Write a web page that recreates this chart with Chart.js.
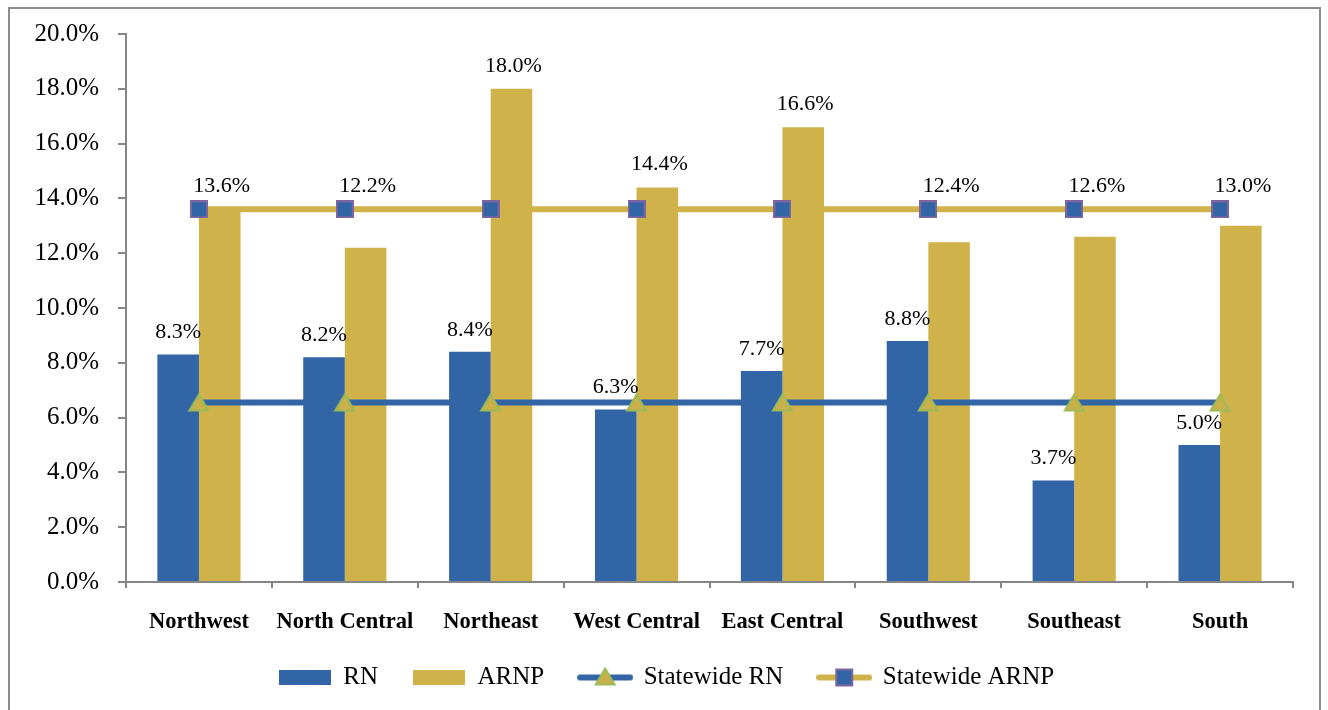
<!DOCTYPE html>
<html>
<head>
<meta charset="utf-8">
<script src="https://cdn.jsdelivr.net/npm/chart.js@4.4.1/dist/chart.umd.min.js"></script>
<style>
  html, body { margin: 0; padding: 0; background: #fff; }
  #wrap { position: relative; width: 1328px; height: 710px; }
  #frame { position: absolute; left: 8px; top: 7px; width: 1313px; height: 720px; border: 2px solid #8c8c8c; box-sizing: border-box; pointer-events: none; }
  canvas { display: block; }
</style>
</head>
<body>
<div id="wrap">
  <canvas id="c" width="1328" height="710"></canvas>
  <div id="frame"></div>
</div>
<script>
const categories = ["Northwest", "North Central", "Northeast", "West Central", "East Central", "Southwest", "Southeast", "South"];
const rnValues = [8.3, 8.2, 8.4, 6.3, 7.7, 8.8, 3.7, 5.0];
const arnpValues = [13.6, 12.2, 18.0, 14.4, 16.6, 12.4, 12.6, 13.0];
const statewideRN = [6.55, 6.55, 6.55, 6.55, 6.55, 6.55, 6.55, 6.55];
const statewideARNP = [13.6, 13.6, 13.6, 13.6, 13.6, 13.6, 13.6, 13.6];
const yTicks = [0, 2, 4, 6, 8, 10, 12, 14, 16, 18, 20];

const BLUE = '#3165a5';
const GOLD = '#d0b24a';
const GREEN = '#9bbb59';
const PURPLE = '#8064a2';
const AXIS = '#868686';
const FONT = '"Liberation Serif", "Times New Roman", serif';

function drawTriangle(ctx, cx, cy, r) {
  ctx.beginPath();
  ctx.moveTo(cx, cy - r);
  ctx.lineTo(cx + r * 0.95, cy + r * 0.6);
  ctx.lineTo(cx - r * 0.95, cy + r * 0.6);
  ctx.closePath();
}

function makeTriangle(size) {
  const c = document.createElement('canvas');
  c.width = size; c.height = size;
  const ctx = c.getContext('2d');
  const r = size / 2 - 1.5;
  ctx.fillStyle = '#c9b04a';
  ctx.strokeStyle = GREEN;
  ctx.lineWidth = 2;
  drawTriangle(ctx, size / 2, size / 2 + 2, r);
  ctx.fill(); ctx.stroke();
  return c;
}
function makeSquare(size) {
  const c = document.createElement('canvas');
  c.width = size; c.height = size;
  const ctx = c.getContext('2d');
  ctx.fillStyle = BLUE;
  ctx.strokeStyle = PURPLE;
  ctx.lineWidth = 2;
  ctx.fillRect(1, 1, size - 2, size - 2);
  ctx.strokeRect(1, 1, size - 2, size - 2);
  return c;
}
function makeBox(color) {
  const c = document.createElement('canvas');
  c.width = 52; c.height = 15;
  const ctx = c.getContext('2d');
  ctx.fillStyle = color;
  ctx.fillRect(0, 0, 52, 15);
  return c;
}
function makeLineIcon(color, marker) {
  const c = document.createElement('canvas');
  c.width = 56; c.height = 22;
  const ctx = c.getContext('2d');
  ctx.strokeStyle = color;
  ctx.lineWidth = 6;
  ctx.lineCap = 'round';
  ctx.beginPath(); ctx.moveTo(3, 11); ctx.lineTo(53, 11); ctx.stroke();
  if (marker === 'tri') {
    ctx.fillStyle = '#c9b04a'; ctx.strokeStyle = GREEN; ctx.lineWidth = 2;
    drawTriangle(ctx, 28, 12, 10);
    ctx.fill(); ctx.stroke();
  } else {
    ctx.fillStyle = BLUE; ctx.strokeStyle = PURPLE; ctx.lineWidth = 2;
    ctx.fillRect(20, 3, 16, 16); ctx.strokeRect(20, 3, 16, 16);
  }
  return c;
}

const triImg = makeTriangle(23);
const sqImg = makeSquare(18);
const legendIcons = [makeBox(BLUE), makeBox(GOLD), makeLineIcon(BLUE, 'tri'), makeLineIcon(GOLD, 'sq')];

const labelPlugin = {
  id: 'valueLabels',
  afterLayout(chart) {
    const lg = chart.legend;
    if (lg) { lg.top -= 10; lg.bottom -= 10; lg.left += 20; lg.right += 20; }
  },
  afterDatasetsDraw(chart) {
    const ctx = chart.ctx;
    const y = chart.scales.y;
    ctx.save();
    ctx.font = '22px ' + FONT;
    ctx.fillStyle = '#000';
    ctx.textAlign = 'center';
    ctx.textBaseline = 'middle';
    const rnMeta = chart.getDatasetMeta(0);
    rnMeta.data.forEach((bar, i) => {
      ctx.fillText(rnValues[i].toFixed(1) + '%', bar.x, bar.y - 22);
    });
    const arMeta = chart.getDatasetMeta(1);
    const linePx = y.getPixelForValue(statewideARNP[0]);
    arMeta.data.forEach((bar, i) => {
      const top = Math.min(bar.y, linePx);
      ctx.fillText(arnpValues[i].toFixed(1) + '%', bar.x + 2, top - 23);
    });
    ctx.restore();
  }
};

new Chart(document.getElementById('c'), {
  data: {
    labels: categories,
    datasets: [
      { type: 'bar', label: 'RN', data: rnValues, backgroundColor: BLUE, order: 2,
        categoryPercentage: 0.57, barPercentage: 1.0 },
      { type: 'bar', label: 'ARNP', data: arnpValues, backgroundColor: GOLD, order: 2,
        categoryPercentage: 0.57, barPercentage: 1.0 },
      { type: 'line', label: 'Statewide RN', data: statewideRN, borderColor: BLUE, borderWidth: 6,
        pointStyle: triImg, pointRadius: 10, order: 0 },
      { type: 'line', label: 'Statewide ARNP', data: statewideARNP, borderColor: GOLD, borderWidth: 6,
        pointStyle: sqImg, pointRadius: 9, order: 1 }
    ]
  },
  options: {
    responsive: false,
    animation: false,
    events: [],
    layout: { padding: { left: 0, right: 35, top: 33, bottom: 0 } },
    scales: {
      x: {
        offset: true,
        grid: { display: true, drawOnChartArea: false, drawTicks: true, tickLength: 6, offset: true, color: AXIS, lineWidth: 2 },
        border: { display: true, color: AXIS, width: 2 },
        ticks: { color: '#000', font: { family: FONT, size: 22.5, weight: 'bold' }, padding: 21, maxRotation: 0, autoSkip: false },
        afterFit(s) { s.height = 58; }
      },
      y: {
        min: 0, max: 20,
        afterBuildTicks(s) { s.ticks = yTicks.map(v => ({ value: v })); },
        grid: { display: true, drawOnChartArea: false, drawTicks: true, tickLength: 8, color: AXIS, lineWidth: 2 },
        border: { display: true, color: AXIS, width: 2 },
        ticks: { color: '#000', font: { family: FONT, size: 25 }, padding: 19,
          callback: v => Number(v).toFixed(1) + '%' },
        afterFit(s) { s.width = 126; }
      }
    },
    plugins: {
      tooltip: { enabled: false },
      legend: {
        position: 'bottom',
        labels: {
          color: '#000',
          font: { family: FONT, size: 25 },
          usePointStyle: true,
          pointStyleWidth: 52,
          padding: 35,
          generateLabels(chart) {
            return chart.data.datasets.map((ds, i) => ({
              text: ds.label,
              pointStyle: legendIcons[i],
              fillStyle: 'transparent',
              strokeStyle: 'transparent',
              lineWidth: 0,
              hidden: false,
              datasetIndex: i,
              fontColor: '#000'
            }));
          }
        }
      }
    }
  },
  plugins: [labelPlugin]
});
</script>
</body>
</html>
